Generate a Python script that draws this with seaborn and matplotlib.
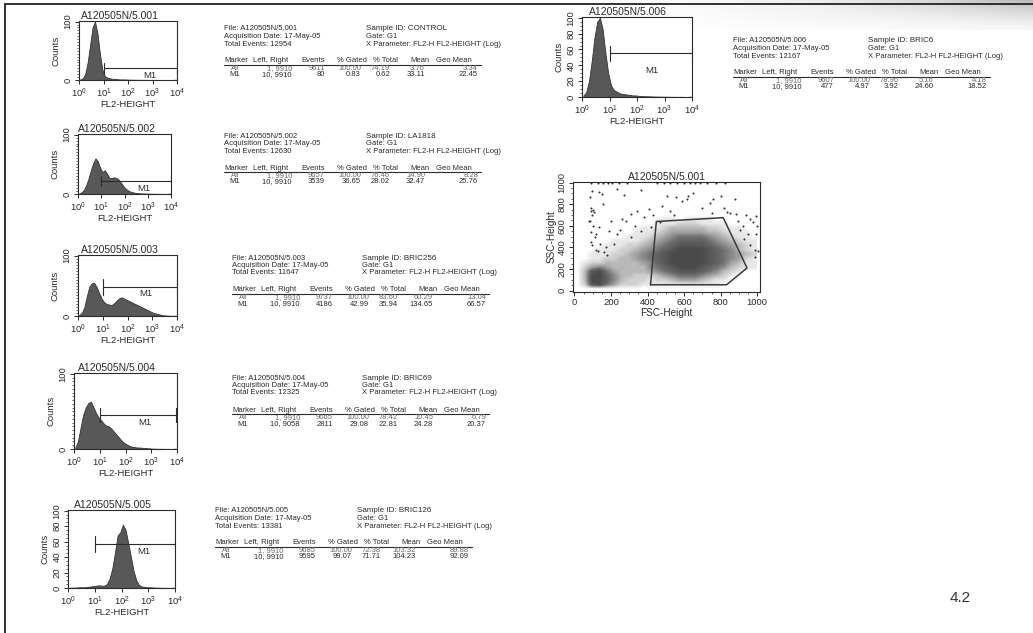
import numpy as np
import matplotlib
matplotlib.use("Agg")
import matplotlib.pyplot as plt
import seaborn as sns
from matplotlib.lines import Line2D
from matplotlib.colors import LinearSegmentedColormap
from matplotlib.ticker import FixedLocator, MultipleLocator, LogLocator, NullFormatter

sns.set_theme(style="white")
plt.rcParams['font.family'] = ['Liberation Sans', 'DejaVu Sans']
plt.rcParams['mathtext.fontset'] = 'custom'
plt.rcParams['mathtext.rm'] = 'Liberation Sans'
plt.rcParams['mathtext.it'] = 'Liberation Sans:italic'

W, H = 1033, 633
INK = '#2b2b2b'

# ---------------- data ----------------
sample_files = ["A120505N/5.001", "A120505N/5.002", "A120505N/5.003",
                "A120505N/5.004", "A120505N/5.005", "A120505N/5.006"]
sample_ids = ["CONTROL", "LA1818", "BRIC256", "BRIC69", "BRIC126", "BRIC6"]
total_events = [12954, 12630, 11647, 12325, 13381, 12167]
all_events = [9611, 9657, 9737, 9665, 9685, 9607]
all_pct_total = [74.19, 76.46, 83.60, 78.42, 72.38, 78.96]
all_mean = [3.76, 14.90, 60.29, 10.45, 103.32, 5.16]
all_geo = [3.34, 8.28, 13.04, 6.79, 89.88, 4.18]
m1_left = [10, 10, 10, 10, 10, 10]
m1_right = [9910, 9910, 9910, 9058, 9910, 9910]
m1_events = [80, 3539, 4186, 2811, 9595, 477]
m1_gated = [0.83, 36.65, 42.99, 29.08, 99.07, 4.97]
m1_total = [0.62, 28.02, 35.94, 22.81, 71.71, 3.92]
m1_mean = [33.11, 32.47, 134.65, 24.28, 104.23, 24.60]
m1_geo = [22.45, 25.76, 66.57, 20.37, 92.09, 18.52]

# histogram counts, 40 bins of 0.1 decade from 10^0 to 10^4
hist_001 = [1, 3, 10, 30, 60, 90, 100, 80, 45, 18, 7, 4, 3, 2, 2, 1.5, 1, 1, 1, 0.8,
            0.6, 0.5, 0.5, 0.4, 0.3, 0.3, 0.3, 0.2, 0.2, 0.2, 0.2, 0.2, 0.1, 0.1, 0.1, 0.1, 0.1, 0.1, 0.1, 0.5]
hist_002 = [1, 3, 7, 15, 26, 40, 52, 60, 55, 44, 37, 40, 34, 27, 27, 28, 27, 24, 19, 13,
            9, 6, 4, 3, 2, 1.5, 1.2, 1, 0.8, 0.7, 0.6, 0.5, 0.5, 0.4, 0.3, 0.3, 0.3, 0.2, 0.2, 1]
hist_003 = [2, 5, 14, 32, 48, 54, 55, 48, 38, 29, 23, 20, 19, 18, 21, 25, 29, 31, 29, 27,
            25, 23, 21, 19, 17, 15, 13, 11, 9, 7, 5, 4, 3, 2, 1.2, 0.8, 0.5, 0.4, 0.3, 0.5]
hist_004 = [2, 10, 28, 45, 55, 61, 63, 56, 48, 42, 38, 34, 31, 30, 27, 23, 19, 15, 11, 8,
            6, 4, 3, 2.5, 2, 2, 1.5, 1.5, 1, 0.8, 0.5, 0.4, 0.3, 0.3, 0.2, 0.2, 0.2, 0.1, 0.1, 0.5]
hist_005 = [0.5, 0.5, 0.5, 0.8, 1, 1, 1, 1.5, 2, 2.5, 3, 3.5, 3, 3, 5, 12, 25, 45, 68, 72,
            82, 75, 58, 40, 22, 10, 4, 2, 1.5, 1, 1, 0.8, 0.5, 0.5, 0.3, 0.3, 0.2, 0.2, 0.2, 0.5]
hist_006 = [2, 6, 20, 45, 75, 95, 100, 85, 55, 30, 15, 9, 7, 5, 4, 3.5, 3, 2.5, 2, 2,
            1.5, 1.2, 1, 1, 0.8, 0.7, 0.6, 0.5, 0.5, 0.4, 0.4, 0.3, 0.3, 0.2, 0.2, 0.2, 0.2, 0.1, 0.1, 0.5]
hists = [hist_001, hist_002, hist_003, hist_004, hist_005, hist_006]

# scatter (FSC vs SSC): dense-region density read per 40x40 cell (rows top -> bottom)
density_rows = [
    "0000000000000000000000000",
    "0000000000000000000000000",
    "0000000000000000000000000",
    "0000000000000000000000000",
    "0000000000000000000000000",
    "0000000000000000000000000",
    "0000000000000000000000000",
    "0000000000000000000000000",
    "0000000000001101111000000",
    "0000000000011122211110000",
    "0000000001112333332211100",
    "0000000011123444443321110",
    "0000000111234566665432110",
    "0000011112345677776543211",
    "0000111223456788887654321",
    "0001112234567899998765321",
    "0011122345678999998765432",
    "0011223345678999998765421",
    "0122333334578999998764311",
    "0245433333567899987653211",
    "0389643333456788876532100",
    "0399753322234566654321000",
    "0399753222122344432110000",
    "0289642221111111111100000",
    "0000000000000000000000000",
]
sparse_fsc = [90, 127, 154, 181, 208, 244, 289, 452, 488, 524, 561, 597, 633, 660, 687, 723, 777, 823,
              96, 136, 150, 235, 271, 362, 506, 557, 588, 615, 741, 877, 90, 99, 108, 81, 154, 199,
              262, 307, 344, 380, 407, 479, 521, 542, 750, 835, 850, 895, 922, 958, 976, 995, 995,
              1004, 985, 949, 886, 235, 190, 136, 118, 90, 307, 362, 416, 470, 127, 172, 217,
              85, 88, 95, 85, 100, 90, 110, 95, 120, 140, 160, 180, 905, 930, 960, 990, 1000, 940,
              620, 650, 700, 760, 800, 820, 330, 280, 250, 430]
sparse_ssc = [992, 992, 992, 992, 992, 992, 992, 992, 992, 992, 992, 992, 992, 992, 992, 992, 992, 992,
              923, 908, 898, 938, 886, 929, 877, 862, 831, 846, 815, 846, 738, 745, 732, 646, 800, 646,
              662, 708, 738, 677, 754, 785, 738, 702, 723, 732, 714, 646, 600, 662, 631, 692, 523,
              369, 308, 523, 708, 523, 554, 585, 523, 446, 492, 554, 585, 631, 369, 400, 431,
              870, 760, 700, 640, 600, 540, 500, 420, 380, 430, 360, 330, 560, 480, 420, 380, 600, 700,
              880, 900, 760, 850, 880, 760, 600, 640, 560, 700]
gate_fsc = [416, 448, 814, 944, 832, 416]
gate_ssc = [55, 640, 675, 210, 55, 55]

# ---------------- figure ----------------
fig = plt.figure(figsize=(W / 100, H / 100), dpi=100)
fig.patch.set_facecolor('white')

# scanner shadow at top-right
gax = fig.add_axes([560 / W, 1 - 30 / H, (W - 560) / W, 30 / H])
gax.axis('off')
gx = np.linspace(0, 1, 300) ** 1.6
gy = np.linspace(1, 0.15, 30)
gax.imshow(np.outer(gy, gx), cmap='Greys', vmin=0, vmax=2.6, aspect='auto', interpolation='bilinear')


def px_axes(box):
    x0, y0, x1, y1 = box
    return fig.add_axes([x0 / W, 1 - y1 / H, (x1 - x0) / W, (y1 - y0) / H])


def ftext(x, y, s, size=5.5, ha='left', color=INK, **kw):
    fig.text(x / W, 1 - y / H, s, fontsize=size, ha=ha, va='center', color=color, **kw)


def style_axes(ax):
    for sp in ax.spines.values():
        sp.set_visible(True)
        sp.set_color(INK)
        sp.set_linewidth(0.8)
    ax.tick_params(which='both', direction='out', bottom=True, left=True, colors=INK,
                   labelsize=6.8, pad=1.5)
    ax.tick_params(which='major', length=3, width=0.7)
    ax.tick_params(which='minor', length=1.6, width=0.5)


bin_centers = np.arange(40) * 0.1 + 0.05

hist_boxes = [(79, 21, 177, 80), (78, 134, 171, 194), (78, 255, 177, 316),
              (74, 373, 177, 449), (68, 510, 175, 588), (582, 17, 692, 97)]
hist_yticks = [[0, 100], [0, 100], [0, 100], [0, 100],
               [0, 20, 40, 60, 80, 100], [0, 20, 40, 60, 80, 100]]
marker_y = [20, 22, 48, 45, 57, 55]
marker_h = [9, 9, 13, 9, 10, 10]
label_pos = [(2.9, 7), (2.85, 9), (2.75, 37), (2.75, 35), (2.85, 47), (2.55, 33)]

for i in range(6):
    ax = px_axes(hist_boxes[i])
    sns.histplot(x=10 ** bin_centers, weights=hists[i], bins=40, binrange=(0, 4),
                 log_scale=True, element='poly', fill=True, color='#585858', alpha=1,
                 edgecolor='#333333', linewidth=0.6, ax=ax)
    ax.set_xlim(1, 1e4)
    ax.set_ylim(0, 101)
    style_axes(ax)
    ax.xaxis.set_major_locator(FixedLocator([1, 10, 100, 1000, 10000]))
    ax.set_xticklabels([r'$10^0$', r'$10^1$', r'$10^2$', r'$10^3$', r'$10^4$'])
    ax.xaxis.set_minor_locator(LogLocator(base=10, subs=np.arange(2, 10)))
    ax.xaxis.set_minor_formatter(NullFormatter())
    ax.yaxis.set_major_locator(FixedLocator(hist_yticks[i]))
    ax.set_yticklabels([str(t) for t in hist_yticks[i]], rotation=90, va='center')
    ax.yaxis.set_minor_locator(MultipleLocator(5))
    ax.set_xlabel('FL2-HEIGHT', fontsize=6.8, color=INK, labelpad=0.5)
    ax.set_ylabel('Counts', fontsize=6.8, color=INK, labelpad=2)
    ax.set_title(sample_files[i], fontsize=7.5, color=INK, pad=1.5, loc='center', x=0.42)
    # marker M1
    my, mh = marker_y[i], marker_h[i]
    ax.plot([m1_left[i], m1_right[i]], [my, my], color=INK, lw=0.8)
    ax.plot([m1_left[i], m1_left[i]], [my - mh, my + mh], color=INK, lw=0.8)
    ax.plot([m1_right[i], m1_right[i]], [my - mh, my + mh], color=INK, lw=0.8)
    lx, ly = label_pos[i]
    ax.text(10 ** lx, ly, 'M1', fontsize=6.8, color=INK, ha='center', va='center')

# ---------------- scatter ----------------
sax = px_axes((573, 182, 760, 292))
dens = np.array([[int(c) for c in row] for row in density_rows], dtype=float)
dcmap = LinearSegmentedColormap.from_list('dots', ['#ffffff', '#b5b5b5', '#6a6a6a', '#454545'])
sax.imshow(dens, cmap=dcmap, vmin=0, vmax=9.5, extent=[0, 1000, 0, 1000],
           interpolation='bilinear', aspect='auto', origin='upper', zorder=1)
sns.scatterplot(x=sparse_fsc, y=sparse_ssc, s=2.2, color='#333333', linewidth=0, ax=sax, zorder=2)
sax.plot(gate_fsc, gate_ssc, color='#3a3a3a', lw=1.1, zorder=3)
sax.set_xlim(-8, 1015)
sax.set_ylim(-12, 1005)
style_axes(sax)
sax.xaxis.set_major_locator(FixedLocator([0, 200, 400, 600, 800, 1000]))
sax.yaxis.set_major_locator(FixedLocator([0, 200, 400, 600, 800, 1000]))
sax.set_yticklabels(['0', '200', '400', '600', '800', '1000'], rotation=90, va='center')
sax.xaxis.set_minor_locator(MultipleLocator(50))
sax.yaxis.set_minor_locator(MultipleLocator(50))
sax.set_xlabel('FSC-Height', fontsize=7.2, color=INK, labelpad=0.5)
sax.set_ylabel('SSC-Height', fontsize=7.2, color=INK, labelpad=1)
sax.set_title('A120505N/5.001', fontsize=7.5, color=INK, pad=1.5)

# ---------------- statistics blocks ----------------
block_xy = [(224, 29), (224, 136), (232, 258), (232, 378), (215, 511), (733, 41)]
sample_dx = [142, 142, 130, 130, 142, 135]
head_x = [0, 29, 77, 113, 149, 186, 212]
val_x = [16, 68, 101, 137, 166, 201, 254]
headers = ['Marker', 'Left, Right', 'Events', '% Gated', '% Total', 'Mean', 'Geo Mean']

for i in range(6):
    x0, y0 = block_xy[i]
    ftext(x0, y0, f"File: {sample_files[i]}")
    ftext(x0, y0 + 7.5, "Acquisition Date: 17-May-05")
    ftext(x0, y0 + 15, f"Total Events: {total_events[i]}")
    sx = x0 + sample_dx[i]
    ftext(sx, y0, f"Sample ID: {sample_ids[i]}", size=5.8)
    ftext(sx, y0 + 7.5, "Gate: G1")
    ftext(sx, y0 + 15, "X Parameter: FL2-H FL2-HEIGHT (Log)")
    hy = y0 + 32
    for hx, h in zip(head_x, headers):
        ftext(x0 + hx, hy, h)
    fig.add_artist(Line2D([x0 / W, (x0 + 257) / W], [1 - (hy + 3.8) / H] * 2,
                          color=INK, lw=0.8))
    row_all = ['All', '1, 9910', f"{all_events[i]}", '100.00', f"{all_pct_total[i]:.2f}",
               f"{all_mean[i]:.2f}", f"{all_geo[i]:.2f}"]
    row_m1 = ['M1', f"{m1_left[i]}, {m1_right[i]}", f"{m1_events[i]}", f"{m1_gated[i]:.2f}",
              f"{m1_total[i]:.2f}", f"{m1_mean[i]:.2f}", f"{m1_geo[i]:.2f}"]
    for vx, a, m in zip(val_x, row_all, row_m1):
        ftext(x0 + vx, hy + 7.6, a, ha='right', color='#6a6a6a')
        ftext(x0 + vx, hy + 14, m, ha='right')

ftext(950, 598, '4.2', size=11, color='#333333')

# page border (left and top)
fig.add_artist(Line2D([5 / W, 5 / W], [0, 1 - 4 / H], color='#222222', lw=1.3))
fig.add_artist(Line2D([5 / W, 1], [1 - 4 / H, 1 - 4 / H], color='#222222', lw=1.3))

fig.savefig('out.png', dpi=100, facecolor='white')
